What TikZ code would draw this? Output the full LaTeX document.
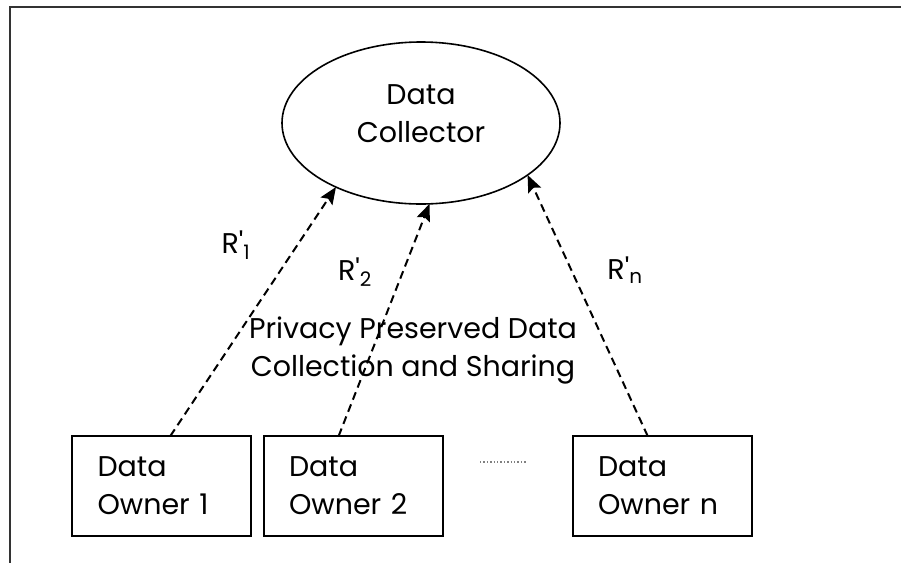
\documentclass[tikz,border=0pt]{standalone}
\usepackage{fontspec}
\setmainfont{Poppins}
\usetikzlibrary{arrows.meta, shapes.geometric}
\begin{document}
\begin{tikzpicture}[x=1pt, y=1pt,
  every node/.style={font={\fontsize{28.5}{38}\selectfont}, outer sep=0pt},
  owner/.style={draw=black, line width=2pt, rectangle, minimum width=179pt, minimum height=100pt,
    text width=150pt, inner xsep=14.5pt, align=left},
  report/.style={draw=black, line width=2pt, dash pattern=on 8pt off 5pt,
    -{Stealth[length=17pt, width=14pt, inset=3pt]}}]
\useasboundingbox (0,0) rectangle (901,-563);
\draw[line width=2.2pt, gray!40!black] (901,-7) -- (10,-7) -- (10,-563);
\node[draw=black, line width=1.6pt, ellipse, minimum width=278pt, minimum height=162pt] (collector) at (421,-123)
  {\raisebox{0pt}[\height][\dimexpr\depth+14pt]{\begin{tabular}{@{}c@{}}Data\\Collector\end{tabular}}};
\node[owner] (own1) at (161.5,-486) {\hspace*{11pt}Data\\\hspace*{11pt}Owner 1};
\node[owner] (own2) at (353,-486) {\hspace*{11pt}Data\\\hspace*{11pt}Owner 2};
\node[owner] (ownn) at (662,-486) {\hspace*{11pt}Data\\\hspace*{11pt}Owner n};
\draw[gray, line width=1.4pt, dotted] (480,-462) -- (527,-462);
\draw[report] (own1.80) -- (collector.217);
\draw[report] (own2.106) -- (collector.276);
\draw[report] (ownn.106) -- (collector.334);
\node (r1) at (236,-245) {R\textquotesingle\textsubscript{1}};
\node (r2) at (355,-272) {R\textquotesingle\textsubscript{2}};
\node (rn) at (625,-270) {R\textquotesingle\textsubscript{n}};
\node[align=center] (sharing) at (413,-350) {Privacy Preserved Data\\Collection and Sharing};
\end{tikzpicture}
\end{document}
